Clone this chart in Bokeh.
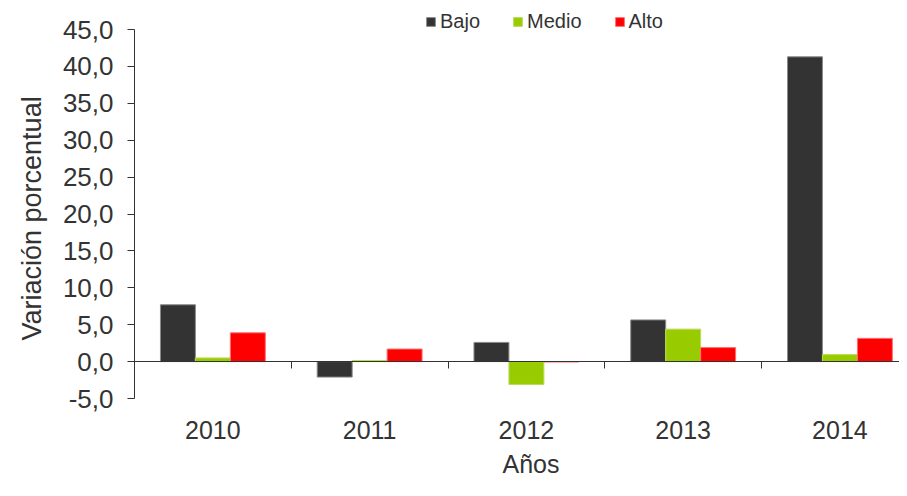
from bokeh.plotting import figure
from bokeh.models import (ColumnDataSource, Range1d, FixedTicker, LinearAxis,
                          Legend, LegendItem, Title)
from bokeh.embed import file_html
from bokeh.resources import INLINE

years = ["2010", "2011", "2012", "2013", "2014"]
bajo = [7.7, -2.1, 2.6, 5.65, 41.3]
medio = [0.5, 0.15, -3.1, 4.4, 0.95]
alto = [3.9, 1.7, -0.05, 1.9, 3.15]
series_names = ["Bajo", "Medio", "Alto"]
series_colors = ["#333333", "#99cc00", "#ff0000"]
series_lines = ["#8a8a8a", "#b8dd55", "#ff7070"]
y_ticks = [-5, 0, 5, 10, 15, 20, 25, 30, 35, 40, 45]

FONT = "Liberation Sans"
TXT = "#333333"

p = figure(width=899, height=488, output_backend="svg", toolbar_location=None,
           x_range=Range1d(0, 4.88), y_range=Range1d(-5, 48.39),
           min_border_left=134, min_border_right=0, min_border_top=4,
           min_border_bottom=90, x_axis_type=None, y_axis_type=None)
p.outline_line_color = None
p.grid.visible = False
p.background_fill_color = "white"

bw = 0.223
centers = [i + 0.5 for i in range(len(years))]
renderers = []
for k, (vals, col, lc) in enumerate(zip([bajo, medio, alto], series_colors, series_lines)):
    src = ColumnDataSource(dict(x=[c + (k - 1) * bw for c in centers], top=vals,
                                bottom=[0] * len(vals)))
    r = p.vbar(x="x", top="top", bottom="bottom", width=bw, source=src,
               fill_color=col, line_color=lc, line_width=1)
    renderers.append(r)

# y axis
yax = LinearAxis(ticker=FixedTicker(ticks=y_ticks), bounds=(y_ticks[0], y_ticks[-1]))
yax.major_label_overrides = {v: f"{v:.1f}".replace(".", ",") for v in y_ticks}
yax.major_label_text_font = FONT
yax.major_label_text_font_size = "26px"
yax.major_label_text_color = TXT
yax.major_tick_in = 0
yax.major_tick_out = 7
yax.minor_tick_line_color = None
yax.axis_line_color = "#333333"
yax.major_tick_line_color = "#333333"
yax.major_label_standoff = 14
p.add_layout(yax, "left")

ytitle = Title(text="Variación porcentual", align="left", offset=58,
               text_font=FONT, text_font_size="27px", text_font_style="normal",
               text_color=TXT, standoff=26)
p.add_layout(ytitle, "left")

# zero axis line with category separator ticks (drawn at y = 0)
zax = LinearAxis(ticker=FixedTicker(ticks=[1, 2, 3, 4]), fixed_location=0)
zax.major_label_text_font_size = "0px"
zax.major_label_text_color = None
zax.major_label_standoff = 0
zax.major_tick_in = 7
zax.major_tick_out = 0
zax.minor_tick_line_color = None
zax.axis_line_color = "#333333"
zax.major_tick_line_color = "#333333"
p.add_layout(zax, "above")

# category labels
xax = LinearAxis(ticker=FixedTicker(ticks=centers))
xax.major_label_overrides = {c: y for c, y in zip(centers, years)}
xax.major_label_text_font = FONT
xax.major_label_text_font_size = "25px"
xax.major_label_text_color = TXT
xax.major_tick_line_color = None
xax.minor_tick_line_color = None
xax.axis_line_color = None
xax.major_label_standoff = 16
p.add_layout(xax, "below")

xtitle = Title(text="Años", align="left", offset=368,
               text_font=FONT, text_font_size="25px", text_font_style="normal",
               text_color=TXT, standoff=13)
p.add_layout(xtitle, "below")

legend = Legend(items=[LegendItem(label=n, renderers=[r]) for n, r in zip(series_names, renderers)],
                orientation="horizontal", location=(291, 365),
                label_text_font=FONT, label_text_font_size="20px", label_text_color=TXT,
                glyph_width=11, glyph_height=11, label_standoff=4, spacing=32,
                padding=0, margin=0, border_line_color=None, background_fill_alpha=0)
p.add_layout(legend, "center")

open("out.html", "w").write(file_html(p, INLINE))
